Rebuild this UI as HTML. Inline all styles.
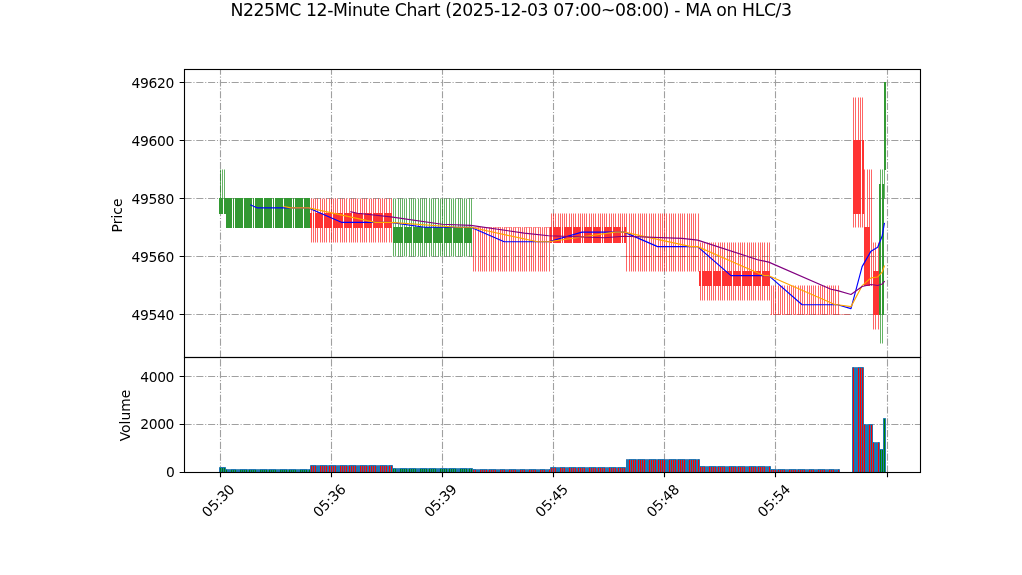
<!DOCTYPE html>
<html><head><meta charset="utf-8"><title>N225MC 12-Minute Chart</title>
<style>
html,body{margin:0;padding:0;background:#fff;}
body{width:1022px;height:575px;overflow:hidden;}
svg{display:block;will-change:transform;}
text{font-family:"DejaVu Sans","Liberation Sans",sans-serif;font-size:13.889px;fill:#000;}
.g{stroke:#a0a0a0;stroke-opacity:1.0;stroke-width:1.111;stroke-dasharray:7.11 1.78 1.11 1.78;fill:none;}
</style></head>
<body>
<svg width="1022" height="575" viewBox="0 0 1022 575">
<rect width="1022" height="575" fill="#fff"/>
<text x="511.2" y="15.6" text-anchor="middle" textLength="561.6" lengthAdjust="spacing" style="font-size:17.3px">N225MC 12-Minute Chart (2025-12-03 07:00~08:00) - MA on HLC/3</text>
<defs><clipPath id="cm"><rect x="184" y="69" width="737" height="288"/></clipPath>
<clipPath id="cv"><rect x="184" y="357" width="737" height="116"/></clipPath></defs>
<g clip-path="url(#cm)">
<g>
<line x1="220.5" y1="357.5" x2="220.5" y2="69.5" class="g"/>
<line x1="331.5" y1="357.5" x2="331.5" y2="69.5" class="g"/>
<line x1="442.5" y1="357.5" x2="442.5" y2="69.5" class="g"/>
<line x1="553.5" y1="357.5" x2="553.5" y2="69.5" class="g"/>
<line x1="664.5" y1="357.5" x2="664.5" y2="69.5" class="g"/>
<line x1="775.5" y1="357.5" x2="775.5" y2="69.5" class="g"/>
<line x1="887.5" y1="357.5" x2="887.5" y2="69.5" class="g"/>
<line x1="184.5" y1="314.5" x2="920.5" y2="314.5" class="g"/>
<line x1="184.5" y1="256.5" x2="920.5" y2="256.5" class="g"/>
<line x1="184.5" y1="198.5" x2="920.5" y2="198.5" class="g"/>
<line x1="184.5" y1="140.5" x2="920.5" y2="140.5" class="g"/>
<line x1="184.5" y1="82.5" x2="920.5" y2="82.5" class="g"/>
</g>
<path d="M219 198h4v16h-4zM224 198h2v16h-2z" fill="#339933" shape-rendering="crispEdges"/>
<path d="M226 198h6v30h-6zM233 198h1v30h-1zM235 198h8v30h-8zM244 198h8v30h-8zM253 198h1v30h-1zM255 198h8v30h-8zM264 198h8v30h-8zM273 198h1v30h-1zM275 198h8v30h-8zM284 198h8v30h-8zM293 198h1v30h-1zM295 198h8v30h-8zM304 198h6v30h-6z" fill="#339933" shape-rendering="crispEdges"/>
<path d="M310 213h2v15h-2zM313 213h1v15h-1zM315 213h8v15h-8zM324 213h8v15h-8zM333 213h10v15h-10zM344 213h8v15h-8zM353 213h10v15h-10zM364 213h8v15h-8zM373 213h10v15h-10zM384 213h8v15h-8z" fill="#ff3333" shape-rendering="crispEdges"/>
<path d="M393 227h10v16h-10zM404 227h8v16h-8zM413 227h10v16h-10zM424 227h8v16h-8zM433 227h10v16h-10zM444 227h8v16h-8zM453 227h10v16h-10zM464 227h8v16h-8z" fill="#339933" shape-rendering="crispEdges"/>
<path d="M550 227h2v16h-2zM553 227h8v16h-8zM562 227h1v16h-1zM564 227h8v16h-8zM573 227h8v16h-8zM582 227h1v16h-1zM584 227h8v16h-8zM593 227h8v16h-8zM602 227h1v16h-1zM604 227h8v16h-8zM613 227h8v16h-8zM622 227h1v16h-1zM624 227h2v16h-2z" fill="#ff3333" shape-rendering="crispEdges"/>
<path d="M699 271h2v15h-2zM702 271h10v15h-10zM713 271h8v15h-8zM722 271h10v15h-10zM733 271h8v15h-8zM742 271h10v15h-10zM753 271h8v15h-8zM762 271h8v15h-8z" fill="#ff3333" shape-rendering="crispEdges"/>
<path d="M853 140h8v74h-8zM862 140h2v74h-2z" fill="#ff3333" shape-rendering="crispEdges"/>
<path d="M864 227h6v59h-6z" fill="#ff3333" shape-rendering="crispEdges"/>
<path d="M873 271h6v44h-6z" fill="#ff3333" shape-rendering="crispEdges"/>
<path d="M879 184h2v131h-2zM882 184h2v131h-2z" fill="#339933" shape-rendering="crispEdges"/>
<path d="M884 82h2v88h-2z" fill="#339933" shape-rendering="crispEdges"/>
<path d="M473 227.5H481M482 227.5H483M484 227.5H492M493 227.5H501M502 227.5H503M504 227.5H512M513 227.5H521M522 227.5H523M524 227.5H532M533 227.5H541M542 227.5H543M544 227.5H550" stroke="#ff0000" stroke-opacity="0.35" stroke-width="1" fill="none"/>
<path d="M626 256.5H632M633 256.5H641M642 256.5H652M653 256.5H661M662 256.5H672M673 256.5H681M682 256.5H692M693 256.5H699" stroke="#ff0000" stroke-opacity="0.35" stroke-width="1" fill="none"/>
<path d="M770 314.5H772M773 314.5H781M782 314.5H790M791 314.5H792M793 314.5H801M802 314.5H810M811 314.5H812M813 314.5H821M822 314.5H830M831 314.5H832M833 314.5H841M842 314.5H850" stroke="#ff0000" stroke-opacity="0.35" stroke-width="1" fill="none"/>
<path d="M871 285.5H872" stroke="#ff0000" stroke-opacity="0.35" stroke-width="1" fill="none"/>
<path d="M220.5 169.5V198M222.5 169.5V198M224.5 169.5V198M393.5 198.5V227M393.5 243V256.5M395.5 198.5V227M395.5 243V256.5M398.5 198.5V227M398.5 243V256.5M400.5 198.5V227M400.5 243V256.5M402.5 198.5V227M402.5 243V256.5M404.5 198.5V227M404.5 243V256.5M406.5 198.5V227M406.5 243V256.5M409.5 198.5V227M409.5 243V256.5M411.5 198.5V227M411.5 243V256.5M413.5 198.5V227M413.5 243V256.5M415.5 198.5V227M415.5 243V256.5M418.5 198.5V227M418.5 243V256.5M420.5 198.5V227M420.5 243V256.5M422.5 198.5V227M422.5 243V256.5M424.5 198.5V227M424.5 243V256.5M426.5 198.5V227M426.5 243V256.5M429.5 198.5V227M429.5 243V256.5M431.5 198.5V227M431.5 243V256.5M433.5 198.5V227M433.5 243V256.5M435.5 198.5V227M435.5 243V256.5M438.5 198.5V227M438.5 243V256.5M440.5 198.5V227M440.5 243V256.5M442.5 198.5V227M442.5 243V256.5M444.5 198.5V227M444.5 243V256.5M446.5 198.5V227M446.5 243V256.5M449.5 198.5V227M449.5 243V256.5M451.5 198.5V227M451.5 243V256.5M453.5 198.5V227M453.5 243V256.5M455.5 198.5V227M455.5 243V256.5M458.5 198.5V227M458.5 243V256.5M460.5 198.5V227M460.5 243V256.5M462.5 198.5V227M462.5 243V256.5M464.5 198.5V227M464.5 243V256.5M466.5 198.5V227M466.5 243V256.5M469.5 198.5V227M469.5 243V256.5M471.5 198.5V227M471.5 243V256.5M880.5 169.5V184M880.5 315V343.5M882.5 169.5V184M882.5 315V343.5M884.5 170V198.5" stroke="#008000" stroke-opacity="0.6" stroke-width="1.0" fill="none"/>
<path d="M311.5 198.5V213M311.5 228V242.5M313.5 198.5V213M313.5 228V242.5M315.5 198.5V213M315.5 228V242.5M317.5 198.5V213M317.5 228V242.5M320.5 198.5V213M320.5 228V242.5M322.5 198.5V213M322.5 228V242.5M324.5 198.5V213M324.5 228V242.5M326.5 198.5V213M326.5 228V242.5M329.5 198.5V213M329.5 228V242.5M331.5 198.5V213M331.5 228V242.5M333.5 198.5V213M333.5 228V242.5M335.5 198.5V213M335.5 228V242.5M337.5 198.5V213M337.5 228V242.5M340.5 198.5V213M340.5 228V242.5M342.5 198.5V213M342.5 228V242.5M344.5 198.5V213M344.5 228V242.5M346.5 198.5V213M346.5 228V242.5M349.5 198.5V213M349.5 228V242.5M351.5 198.5V213M351.5 228V242.5M353.5 198.5V213M353.5 228V242.5M355.5 198.5V213M355.5 228V242.5M357.5 198.5V213M357.5 228V242.5M360.5 198.5V213M360.5 228V242.5M362.5 198.5V213M362.5 228V242.5M364.5 198.5V213M364.5 228V242.5M366.5 198.5V213M366.5 228V242.5M369.5 198.5V213M369.5 228V242.5M371.5 198.5V213M371.5 228V242.5M373.5 198.5V213M373.5 228V242.5M375.5 198.5V213M375.5 228V242.5M378.5 198.5V213M378.5 228V242.5M380.5 198.5V213M380.5 228V242.5M382.5 198.5V213M382.5 228V242.5M384.5 198.5V213M384.5 228V242.5M386.5 198.5V213M386.5 228V242.5M389.5 198.5V213M389.5 228V242.5M391.5 198.5V213M391.5 228V242.5M473.5 227.5V271.5M475.5 227.5V271.5M478.5 227.5V271.5M480.5 227.5V271.5M482.5 227.5V271.5M484.5 227.5V271.5M486.5 227.5V271.5M489.5 227.5V271.5M491.5 227.5V271.5M493.5 227.5V271.5M495.5 227.5V271.5M498.5 227.5V271.5M500.5 227.5V271.5M502.5 227.5V271.5M504.5 227.5V271.5M506.5 227.5V271.5M509.5 227.5V271.5M511.5 227.5V271.5M513.5 227.5V271.5M515.5 227.5V271.5M518.5 227.5V271.5M520.5 227.5V271.5M522.5 227.5V271.5M524.5 227.5V271.5M526.5 227.5V271.5M529.5 227.5V271.5M531.5 227.5V271.5M533.5 227.5V271.5M535.5 227.5V271.5M538.5 227.5V271.5M540.5 227.5V271.5M542.5 227.5V271.5M544.5 227.5V271.5M546.5 227.5V271.5M549.5 227.5V271.5M551.5 213.5V227M553.5 213.5V227M555.5 213.5V227M558.5 213.5V227M560.5 213.5V227M562.5 213.5V227M564.5 213.5V227M566.5 213.5V227M569.5 213.5V227M571.5 213.5V227M573.5 213.5V227M575.5 213.5V227M578.5 213.5V227M580.5 213.5V227M582.5 213.5V227M584.5 213.5V227M586.5 213.5V227M589.5 213.5V227M591.5 213.5V227M593.5 213.5V227M595.5 213.5V227M598.5 213.5V227M600.5 213.5V227M602.5 213.5V227M604.5 213.5V227M606.5 213.5V227M609.5 213.5V227M611.5 213.5V227M613.5 213.5V227M615.5 213.5V227M618.5 213.5V227M620.5 213.5V227M622.5 213.5V227M624.5 213.5V227M626.5 213.5V271.5M629.5 213.5V271.5M631.5 213.5V271.5M633.5 213.5V271.5M635.5 213.5V271.5M638.5 213.5V271.5M640.5 213.5V271.5M642.5 213.5V271.5M644.5 213.5V271.5M646.5 213.5V271.5M649.5 213.5V271.5M651.5 213.5V271.5M653.5 213.5V271.5M655.5 213.5V271.5M658.5 213.5V271.5M660.5 213.5V271.5M662.5 213.5V271.5M664.5 213.5V271.5M666.5 213.5V271.5M669.5 213.5V271.5M671.5 213.5V271.5M673.5 213.5V271.5M675.5 213.5V271.5M678.5 213.5V271.5M680.5 213.5V271.5M682.5 213.5V271.5M684.5 213.5V271.5M687.5 213.5V271.5M689.5 213.5V271.5M691.5 213.5V271.5M693.5 213.5V271.5M695.5 213.5V271.5M698.5 213.5V271.5M700.5 242.5V271M700.5 286V300.5M702.5 242.5V271M702.5 286V300.5M704.5 242.5V271M704.5 286V300.5M707.5 242.5V271M707.5 286V300.5M709.5 242.5V271M709.5 286V300.5M711.5 242.5V271M711.5 286V300.5M713.5 242.5V271M713.5 286V300.5M715.5 242.5V271M715.5 286V300.5M718.5 242.5V271M718.5 286V300.5M720.5 242.5V271M720.5 286V300.5M722.5 242.5V271M722.5 286V300.5M724.5 242.5V271M724.5 286V300.5M727.5 242.5V271M727.5 286V300.5M729.5 242.5V271M729.5 286V300.5M731.5 242.5V271M731.5 286V300.5M733.5 242.5V271M733.5 286V300.5M735.5 242.5V271M735.5 286V300.5M738.5 242.5V271M738.5 286V300.5M740.5 242.5V271M740.5 286V300.5M742.5 242.5V271M742.5 286V300.5M744.5 242.5V271M744.5 286V300.5M747.5 242.5V271M747.5 286V300.5M749.5 242.5V271M749.5 286V300.5M751.5 242.5V271M751.5 286V300.5M753.5 242.5V271M753.5 286V300.5M755.5 242.5V271M755.5 286V300.5M758.5 242.5V271M758.5 286V300.5M760.5 242.5V271M760.5 286V300.5M762.5 242.5V271M762.5 286V300.5M764.5 242.5V271M764.5 286V300.5M767.5 242.5V271M767.5 286V300.5M769.5 242.5V271M769.5 286V300.5M771.5 285.5V314.5M773.5 285.5V314.5M775.5 285.5V314.5M778.5 285.5V314.5M780.5 285.5V314.5M782.5 285.5V314.5M784.5 285.5V314.5M787.5 285.5V314.5M789.5 285.5V314.5M791.5 285.5V314.5M793.5 285.5V314.5M795.5 285.5V314.5M798.5 285.5V314.5M800.5 285.5V314.5M802.5 285.5V314.5M804.5 285.5V314.5M807.5 285.5V314.5M809.5 285.5V314.5M811.5 285.5V314.5M813.5 285.5V314.5M815.5 285.5V314.5M818.5 285.5V314.5M820.5 285.5V314.5M822.5 285.5V314.5M824.5 285.5V314.5M827.5 285.5V314.5M829.5 285.5V314.5M831.5 285.5V314.5M833.5 285.5V314.5M835.5 285.5V314.5M838.5 285.5V314.5M853.5 97.5V140M853.5 214V227.5M855.5 97.5V140M855.5 214V227.5M858.5 97.5V140M858.5 214V227.5M860.5 97.5V140M860.5 214V227.5M862.5 97.5V140M862.5 214V227.5M864.5 169.5V227M867.5 169.5V227M869.5 169.5V227M871.5 169.5V285.5M873.5 242.5V271M873.5 315V329.5M875.5 242.5V271M875.5 315V329.5M878.5 242.5V271M878.5 315V329.5" stroke="#ff0000" stroke-opacity="0.6" stroke-width="1.0" fill="none"/>
<path d="M250.79 205.00 L257.46 207.91 L308.59 207.91 L341.93 222.43 L390.84 222.43 L424.19 227.27 L470.87 227.27 L504.21 241.79 L548.67 241.79 L582.02 232.11 L624.26 232.11 L657.60 246.63 L697.62 246.63 L730.96 275.67 L768.75 275.67 L802.10 304.71 L837.66 304.71 L851.00 308.58 L862.12 266.63 L871.01 251.15 L877.68 247.27 L882.12 236.30 L884.35 223.40" stroke="#0000ff" stroke-opacity="1.0" stroke-width="1.15" fill="none" stroke-linejoin="round" stroke-linecap="square"/>
<path d="M284.14 206.46 L290.81 207.91 L308.59 207.91 L375.28 222.43 L390.84 222.43 L457.53 227.27 L470.87 227.27 L537.56 241.79 L548.67 241.79 L615.36 232.11 L624.26 232.11 L690.95 246.63 L697.62 246.63 L764.30 275.67 L768.75 275.67 L835.44 304.71 L837.66 304.71 L851.00 306.64 L862.12 285.67 L871.01 277.93 L877.68 276.96 L882.12 272.12 L884.35 265.99" stroke="#ffa500" stroke-opacity="1.0" stroke-width="1.15" fill="none" stroke-linejoin="round" stroke-linecap="square"/>
<path d="M350.83 211.78 L357.50 213.23 L390.84 216.86 L441.97 224.28 L470.87 225.33 L524.22 233.08 L548.67 235.74 L604.25 237.75 L624.26 236.30 L682.05 238.40 L697.62 240.09 L757.64 259.70 L768.75 262.12 L830.99 289.22 L837.66 290.67 L851.00 294.54 L862.12 286.48 L871.01 284.54 L877.68 285.51 L882.12 284.06 L884.35 281.48" stroke="#800080" stroke-opacity="1.0" stroke-width="1.15" fill="none" stroke-linejoin="round" stroke-linecap="square"/>
</g>
<g clip-path="url(#cv)">
<line x1="220.5" y1="472.5" x2="220.5" y2="357.5" class="g"/>
<line x1="331.5" y1="472.5" x2="331.5" y2="357.5" class="g"/>
<line x1="442.5" y1="472.5" x2="442.5" y2="357.5" class="g"/>
<line x1="553.5" y1="472.5" x2="553.5" y2="357.5" class="g"/>
<line x1="664.5" y1="472.5" x2="664.5" y2="357.5" class="g"/>
<line x1="775.5" y1="472.5" x2="775.5" y2="357.5" class="g"/>
<line x1="887.5" y1="472.5" x2="887.5" y2="357.5" class="g"/>
<line x1="184.5" y1="424.5" x2="920.5" y2="424.5" class="g"/>
<line x1="184.5" y1="376.5" x2="920.5" y2="376.5" class="g"/>
<path d="M219.5 467.5H221.5V472.5H219.5zM221.5 467.5H223.5V472.5H221.5zM223.5 467.5H225.5V472.5H223.5zM225.5 469.5H227.5V472.5H225.5zM228.5 469.5H229.5V472.5H228.5zM230.5 469.5H232.5V472.5H230.5zM232.5 469.5H234.5V472.5H232.5zM234.5 469.5H236.5V472.5H234.5zM237.5 469.5H238.5V472.5H237.5zM239.5 469.5H241.5V472.5H239.5zM241.5 469.5H243.5V472.5H241.5zM243.5 469.5H245.5V472.5H243.5zM245.5 469.5H247.5V472.5H245.5zM248.5 469.5H250.5V472.5H248.5zM250.5 469.5H252.5V472.5H250.5zM252.5 469.5H254.5V472.5H252.5zM254.5 469.5H256.5V472.5H254.5zM257.5 469.5H258.5V472.5H257.5zM259.5 469.5H261.5V472.5H259.5zM261.5 469.5H263.5V472.5H261.5zM263.5 469.5H265.5V472.5H263.5zM265.5 469.5H267.5V472.5H265.5zM268.5 469.5H270.5V472.5H268.5zM270.5 469.5H272.5V472.5H270.5zM272.5 469.5H274.5V472.5H272.5zM274.5 469.5H276.5V472.5H274.5zM277.5 469.5H278.5V472.5H277.5zM279.5 469.5H281.5V472.5H279.5zM281.5 469.5H283.5V472.5H281.5zM283.5 469.5H285.5V472.5H283.5zM285.5 469.5H287.5V472.5H285.5zM288.5 469.5H290.5V472.5H288.5zM290.5 469.5H292.5V472.5H290.5zM292.5 469.5H294.5V472.5H292.5zM294.5 469.5H296.5V472.5H294.5zM297.5 469.5H298.5V472.5H297.5zM299.5 469.5H301.5V472.5H299.5zM301.5 469.5H303.5V472.5H301.5zM303.5 469.5H305.5V472.5H303.5zM305.5 469.5H307.5V472.5H305.5zM308.5 469.5H310.5V472.5H308.5zM392.5 468.5H394.5V472.5H392.5zM394.5 468.5H396.5V472.5H394.5zM397.5 468.5H398.5V472.5H397.5zM399.5 468.5H401.5V472.5H399.5zM401.5 468.5H403.5V472.5H401.5zM403.5 468.5H405.5V472.5H403.5zM405.5 468.5H407.5V472.5H405.5zM408.5 468.5H410.5V472.5H408.5zM410.5 468.5H412.5V472.5H410.5zM412.5 468.5H414.5V472.5H412.5zM414.5 468.5H416.5V472.5H414.5zM417.5 468.5H418.5V472.5H417.5zM419.5 468.5H421.5V472.5H419.5zM421.5 468.5H423.5V472.5H421.5zM423.5 468.5H425.5V472.5H423.5zM425.5 468.5H427.5V472.5H425.5zM428.5 468.5H430.5V472.5H428.5zM430.5 468.5H432.5V472.5H430.5zM432.5 468.5H434.5V472.5H432.5zM434.5 468.5H436.5V472.5H434.5zM437.5 468.5H438.5V472.5H437.5zM439.5 468.5H441.5V472.5H439.5zM441.5 468.5H443.5V472.5H441.5zM443.5 468.5H445.5V472.5H443.5zM445.5 468.5H447.5V472.5H445.5zM448.5 468.5H450.5V472.5H448.5zM450.5 468.5H452.5V472.5H450.5zM452.5 468.5H454.5V472.5H452.5zM454.5 468.5H456.5V472.5H454.5zM457.5 468.5H458.5V472.5H457.5zM459.5 468.5H461.5V472.5H459.5zM461.5 468.5H463.5V472.5H461.5zM463.5 468.5H465.5V472.5H463.5zM465.5 468.5H467.5V472.5H465.5zM468.5 468.5H470.5V472.5H468.5zM470.5 468.5H472.5V472.5H470.5zM879.5 449.5H881.5V472.5H879.5zM881.5 449.5H883.5V472.5H881.5zM883.5 418.5H885.5V472.5H883.5z" fill="#008000"/>
<path d="M310.5 465.5H312.5V472.5H310.5zM312.5 465.5H314.5V472.5H312.5zM314.5 465.5H316.5V472.5H314.5zM317.5 465.5H318.5V472.5H317.5zM319.5 465.5H321.5V472.5H319.5zM321.5 465.5H323.5V472.5H321.5zM323.5 465.5H325.5V472.5H323.5zM325.5 465.5H327.5V472.5H325.5zM328.5 465.5H330.5V472.5H328.5zM330.5 465.5H332.5V472.5H330.5zM332.5 465.5H334.5V472.5H332.5zM334.5 465.5H336.5V472.5H334.5zM337.5 465.5H338.5V472.5H337.5zM339.5 465.5H341.5V472.5H339.5zM341.5 465.5H343.5V472.5H341.5zM343.5 465.5H345.5V472.5H343.5zM345.5 465.5H347.5V472.5H345.5zM348.5 465.5H350.5V472.5H348.5zM350.5 465.5H352.5V472.5H350.5zM352.5 465.5H354.5V472.5H352.5zM354.5 465.5H356.5V472.5H354.5zM357.5 465.5H358.5V472.5H357.5zM359.5 465.5H361.5V472.5H359.5zM361.5 465.5H363.5V472.5H361.5zM363.5 465.5H365.5V472.5H363.5zM365.5 465.5H367.5V472.5H365.5zM368.5 465.5H370.5V472.5H368.5zM370.5 465.5H372.5V472.5H370.5zM372.5 465.5H374.5V472.5H372.5zM374.5 465.5H376.5V472.5H374.5zM377.5 465.5H378.5V472.5H377.5zM379.5 465.5H381.5V472.5H379.5zM381.5 465.5H383.5V472.5H381.5zM383.5 465.5H385.5V472.5H383.5zM385.5 465.5H387.5V472.5H385.5zM388.5 465.5H390.5V472.5H388.5zM390.5 465.5H392.5V472.5H390.5zM472.5 469.5H474.5V472.5H472.5zM474.5 469.5H476.5V472.5H474.5zM477.5 469.5H478.5V472.5H477.5zM479.5 469.5H481.5V472.5H479.5zM481.5 469.5H483.5V472.5H481.5zM483.5 469.5H485.5V472.5H483.5zM485.5 469.5H487.5V472.5H485.5zM488.5 469.5H490.5V472.5H488.5zM490.5 469.5H492.5V472.5H490.5zM492.5 469.5H494.5V472.5H492.5zM494.5 469.5H496.5V472.5H494.5zM497.5 469.5H498.5V472.5H497.5zM499.5 469.5H501.5V472.5H499.5zM501.5 469.5H503.5V472.5H501.5zM503.5 469.5H505.5V472.5H503.5zM506.5 469.5H507.5V472.5H506.5zM508.5 469.5H510.5V472.5H508.5zM510.5 469.5H512.5V472.5H510.5zM512.5 469.5H514.5V472.5H512.5zM514.5 469.5H516.5V472.5H514.5zM517.5 469.5H518.5V472.5H517.5zM519.5 469.5H521.5V472.5H519.5zM521.5 469.5H523.5V472.5H521.5zM523.5 469.5H525.5V472.5H523.5zM526.5 469.5H527.5V472.5H526.5zM528.5 469.5H530.5V472.5H528.5zM530.5 469.5H532.5V472.5H530.5zM532.5 469.5H534.5V472.5H532.5zM534.5 469.5H536.5V472.5H534.5zM537.5 469.5H538.5V472.5H537.5zM539.5 469.5H541.5V472.5H539.5zM541.5 469.5H543.5V472.5H541.5zM543.5 469.5H545.5V472.5H543.5zM546.5 469.5H547.5V472.5H546.5zM548.5 469.5H550.5V472.5H548.5zM550.5 467.5H552.5V472.5H550.5zM552.5 467.5H554.5V472.5H552.5zM554.5 467.5H556.5V472.5H554.5zM557.5 467.5H558.5V472.5H557.5zM559.5 467.5H561.5V472.5H559.5zM561.5 467.5H563.5V472.5H561.5zM563.5 467.5H565.5V472.5H563.5zM566.5 467.5H567.5V472.5H566.5zM568.5 467.5H570.5V472.5H568.5zM570.5 467.5H572.5V472.5H570.5zM572.5 467.5H574.5V472.5H572.5zM574.5 467.5H576.5V472.5H574.5zM577.5 467.5H579.5V472.5H577.5zM579.5 467.5H581.5V472.5H579.5zM581.5 467.5H583.5V472.5H581.5zM583.5 467.5H585.5V472.5H583.5zM586.5 467.5H587.5V472.5H586.5zM588.5 467.5H590.5V472.5H588.5zM590.5 467.5H592.5V472.5H590.5zM592.5 467.5H594.5V472.5H592.5zM594.5 467.5H596.5V472.5H594.5zM597.5 467.5H599.5V472.5H597.5zM599.5 467.5H601.5V472.5H599.5zM601.5 467.5H603.5V472.5H601.5zM603.5 467.5H605.5V472.5H603.5zM606.5 467.5H607.5V472.5H606.5zM608.5 467.5H610.5V472.5H608.5zM610.5 467.5H612.5V472.5H610.5zM612.5 467.5H614.5V472.5H612.5zM614.5 467.5H616.5V472.5H614.5zM617.5 467.5H619.5V472.5H617.5zM619.5 467.5H621.5V472.5H619.5zM621.5 467.5H623.5V472.5H621.5zM623.5 467.5H625.5V472.5H623.5zM626.5 459.5H627.5V472.5H626.5zM628.5 459.5H630.5V472.5H628.5zM630.5 459.5H632.5V472.5H630.5zM632.5 459.5H634.5V472.5H632.5zM634.5 459.5H636.5V472.5H634.5zM637.5 459.5H639.5V472.5H637.5zM639.5 459.5H641.5V472.5H639.5zM641.5 459.5H643.5V472.5H641.5zM643.5 459.5H645.5V472.5H643.5zM646.5 459.5H647.5V472.5H646.5zM648.5 459.5H650.5V472.5H648.5zM650.5 459.5H652.5V472.5H650.5zM652.5 459.5H654.5V472.5H652.5zM654.5 459.5H656.5V472.5H654.5zM657.5 459.5H659.5V472.5H657.5zM659.5 459.5H661.5V472.5H659.5zM661.5 459.5H663.5V472.5H661.5zM663.5 459.5H665.5V472.5H663.5zM666.5 459.5H667.5V472.5H666.5zM668.5 459.5H670.5V472.5H668.5zM670.5 459.5H672.5V472.5H670.5zM672.5 459.5H674.5V472.5H672.5zM674.5 459.5H676.5V472.5H674.5zM677.5 459.5H679.5V472.5H677.5zM679.5 459.5H681.5V472.5H679.5zM681.5 459.5H683.5V472.5H681.5zM683.5 459.5H685.5V472.5H683.5zM686.5 459.5H687.5V472.5H686.5zM688.5 459.5H690.5V472.5H688.5zM690.5 459.5H692.5V472.5H690.5zM692.5 459.5H694.5V472.5H692.5zM694.5 459.5H696.5V472.5H694.5zM697.5 459.5H699.5V472.5H697.5zM699.5 466.5H701.5V472.5H699.5zM701.5 466.5H703.5V472.5H701.5zM703.5 466.5H705.5V472.5H703.5zM706.5 466.5H707.5V472.5H706.5zM708.5 466.5H710.5V472.5H708.5zM710.5 466.5H712.5V472.5H710.5zM712.5 466.5H714.5V472.5H712.5zM714.5 466.5H716.5V472.5H714.5zM717.5 466.5H719.5V472.5H717.5zM719.5 466.5H721.5V472.5H719.5zM721.5 466.5H723.5V472.5H721.5zM723.5 466.5H725.5V472.5H723.5zM726.5 466.5H727.5V472.5H726.5zM728.5 466.5H730.5V472.5H728.5zM730.5 466.5H732.5V472.5H730.5zM732.5 466.5H734.5V472.5H732.5zM734.5 466.5H736.5V472.5H734.5zM737.5 466.5H739.5V472.5H737.5zM739.5 466.5H741.5V472.5H739.5zM741.5 466.5H743.5V472.5H741.5zM743.5 466.5H745.5V472.5H743.5zM746.5 466.5H747.5V472.5H746.5zM748.5 466.5H750.5V472.5H748.5zM750.5 466.5H752.5V472.5H750.5zM752.5 466.5H754.5V472.5H752.5zM754.5 466.5H756.5V472.5H754.5zM757.5 466.5H759.5V472.5H757.5zM759.5 466.5H761.5V472.5H759.5zM761.5 466.5H763.5V472.5H761.5zM763.5 466.5H765.5V472.5H763.5zM766.5 466.5H767.5V472.5H766.5zM768.5 466.5H770.5V472.5H768.5zM770.5 469.5H772.5V472.5H770.5zM772.5 469.5H774.5V472.5H772.5zM774.5 469.5H776.5V472.5H774.5zM777.5 469.5H779.5V472.5H777.5zM779.5 469.5H781.5V472.5H779.5zM781.5 469.5H783.5V472.5H781.5zM783.5 469.5H785.5V472.5H783.5zM786.5 469.5H787.5V472.5H786.5zM788.5 469.5H790.5V472.5H788.5zM790.5 469.5H792.5V472.5H790.5zM792.5 469.5H794.5V472.5H792.5zM794.5 469.5H796.5V472.5H794.5zM797.5 469.5H799.5V472.5H797.5zM799.5 469.5H801.5V472.5H799.5zM801.5 469.5H803.5V472.5H801.5zM803.5 469.5H805.5V472.5H803.5zM806.5 469.5H807.5V472.5H806.5zM808.5 469.5H810.5V472.5H808.5zM810.5 469.5H812.5V472.5H810.5zM812.5 469.5H814.5V472.5H812.5zM815.5 469.5H816.5V472.5H815.5zM817.5 469.5H819.5V472.5H817.5zM819.5 469.5H821.5V472.5H819.5zM821.5 469.5H823.5V472.5H821.5zM823.5 469.5H825.5V472.5H823.5zM826.5 469.5H827.5V472.5H826.5zM828.5 469.5H830.5V472.5H828.5zM830.5 469.5H832.5V472.5H830.5zM832.5 469.5H834.5V472.5H832.5zM835.5 469.5H836.5V472.5H835.5zM837.5 469.5H839.5V472.5H837.5zM852.5 367.5H854.5V472.5H852.5zM855.5 367.5H856.5V472.5H855.5zM857.5 367.5H859.5V472.5H857.5zM859.5 367.5H861.5V472.5H859.5zM861.5 367.5H863.5V472.5H861.5zM863.5 424.5H865.5V472.5H863.5zM866.5 424.5H867.5V472.5H866.5zM868.5 424.5H870.5V472.5H868.5zM870.5 424.5H872.5V472.5H870.5zM872.5 442.5H874.5V472.5H872.5zM875.5 442.5H876.5V472.5H875.5zM877.5 442.5H879.5V472.5H877.5z" fill="#ff0000"/>
<path d="M219.5 467.5H221.5V472.5H219.5zM221.5 467.5H223.5V472.5H221.5zM223.5 467.5H225.5V472.5H223.5zM225.5 469.5H227.5V472.5H225.5zM228.5 469.5H229.5V472.5H228.5zM230.5 469.5H232.5V472.5H230.5zM232.5 469.5H234.5V472.5H232.5zM234.5 469.5H236.5V472.5H234.5zM237.5 469.5H238.5V472.5H237.5zM239.5 469.5H241.5V472.5H239.5zM241.5 469.5H243.5V472.5H241.5zM243.5 469.5H245.5V472.5H243.5zM245.5 469.5H247.5V472.5H245.5zM248.5 469.5H250.5V472.5H248.5zM250.5 469.5H252.5V472.5H250.5zM252.5 469.5H254.5V472.5H252.5zM254.5 469.5H256.5V472.5H254.5zM257.5 469.5H258.5V472.5H257.5zM259.5 469.5H261.5V472.5H259.5zM261.5 469.5H263.5V472.5H261.5zM263.5 469.5H265.5V472.5H263.5zM265.5 469.5H267.5V472.5H265.5zM268.5 469.5H270.5V472.5H268.5zM270.5 469.5H272.5V472.5H270.5zM272.5 469.5H274.5V472.5H272.5zM274.5 469.5H276.5V472.5H274.5zM277.5 469.5H278.5V472.5H277.5zM279.5 469.5H281.5V472.5H279.5zM281.5 469.5H283.5V472.5H281.5zM283.5 469.5H285.5V472.5H283.5zM285.5 469.5H287.5V472.5H285.5zM288.5 469.5H290.5V472.5H288.5zM290.5 469.5H292.5V472.5H290.5zM292.5 469.5H294.5V472.5H292.5zM294.5 469.5H296.5V472.5H294.5zM297.5 469.5H298.5V472.5H297.5zM299.5 469.5H301.5V472.5H299.5zM301.5 469.5H303.5V472.5H301.5zM303.5 469.5H305.5V472.5H303.5zM305.5 469.5H307.5V472.5H305.5zM308.5 469.5H310.5V472.5H308.5zM310.5 465.5H312.5V472.5H310.5zM312.5 465.5H314.5V472.5H312.5zM314.5 465.5H316.5V472.5H314.5zM317.5 465.5H318.5V472.5H317.5zM319.5 465.5H321.5V472.5H319.5zM321.5 465.5H323.5V472.5H321.5zM323.5 465.5H325.5V472.5H323.5zM325.5 465.5H327.5V472.5H325.5zM328.5 465.5H330.5V472.5H328.5zM330.5 465.5H332.5V472.5H330.5zM332.5 465.5H334.5V472.5H332.5zM334.5 465.5H336.5V472.5H334.5zM337.5 465.5H338.5V472.5H337.5zM339.5 465.5H341.5V472.5H339.5zM341.5 465.5H343.5V472.5H341.5zM343.5 465.5H345.5V472.5H343.5zM345.5 465.5H347.5V472.5H345.5zM348.5 465.5H350.5V472.5H348.5zM350.5 465.5H352.5V472.5H350.5zM352.5 465.5H354.5V472.5H352.5zM354.5 465.5H356.5V472.5H354.5zM357.5 465.5H358.5V472.5H357.5zM359.5 465.5H361.5V472.5H359.5zM361.5 465.5H363.5V472.5H361.5zM363.5 465.5H365.5V472.5H363.5zM365.5 465.5H367.5V472.5H365.5zM368.5 465.5H370.5V472.5H368.5zM370.5 465.5H372.5V472.5H370.5zM372.5 465.5H374.5V472.5H372.5zM374.5 465.5H376.5V472.5H374.5zM377.5 465.5H378.5V472.5H377.5zM379.5 465.5H381.5V472.5H379.5zM381.5 465.5H383.5V472.5H381.5zM383.5 465.5H385.5V472.5H383.5zM385.5 465.5H387.5V472.5H385.5zM388.5 465.5H390.5V472.5H388.5zM390.5 465.5H392.5V472.5H390.5zM392.5 468.5H394.5V472.5H392.5zM394.5 468.5H396.5V472.5H394.5zM397.5 468.5H398.5V472.5H397.5zM399.5 468.5H401.5V472.5H399.5zM401.5 468.5H403.5V472.5H401.5zM403.5 468.5H405.5V472.5H403.5zM405.5 468.5H407.5V472.5H405.5zM408.5 468.5H410.5V472.5H408.5zM410.5 468.5H412.5V472.5H410.5zM412.5 468.5H414.5V472.5H412.5zM414.5 468.5H416.5V472.5H414.5zM417.5 468.5H418.5V472.5H417.5zM419.5 468.5H421.5V472.5H419.5zM421.5 468.5H423.5V472.5H421.5zM423.5 468.5H425.5V472.5H423.5zM425.5 468.5H427.5V472.5H425.5zM428.5 468.5H430.5V472.5H428.5zM430.5 468.5H432.5V472.5H430.5zM432.5 468.5H434.5V472.5H432.5zM434.5 468.5H436.5V472.5H434.5zM437.5 468.5H438.5V472.5H437.5zM439.5 468.5H441.5V472.5H439.5zM441.5 468.5H443.5V472.5H441.5zM443.5 468.5H445.5V472.5H443.5zM445.5 468.5H447.5V472.5H445.5zM448.5 468.5H450.5V472.5H448.5zM450.5 468.5H452.5V472.5H450.5zM452.5 468.5H454.5V472.5H452.5zM454.5 468.5H456.5V472.5H454.5zM457.5 468.5H458.5V472.5H457.5zM459.5 468.5H461.5V472.5H459.5zM461.5 468.5H463.5V472.5H461.5zM463.5 468.5H465.5V472.5H463.5zM465.5 468.5H467.5V472.5H465.5zM468.5 468.5H470.5V472.5H468.5zM470.5 468.5H472.5V472.5H470.5zM472.5 469.5H474.5V472.5H472.5zM474.5 469.5H476.5V472.5H474.5zM477.5 469.5H478.5V472.5H477.5zM479.5 469.5H481.5V472.5H479.5zM481.5 469.5H483.5V472.5H481.5zM483.5 469.5H485.5V472.5H483.5zM485.5 469.5H487.5V472.5H485.5zM488.5 469.5H490.5V472.5H488.5zM490.5 469.5H492.5V472.5H490.5zM492.5 469.5H494.5V472.5H492.5zM494.5 469.5H496.5V472.5H494.5zM497.5 469.5H498.5V472.5H497.5zM499.5 469.5H501.5V472.5H499.5zM501.5 469.5H503.5V472.5H501.5zM503.5 469.5H505.5V472.5H503.5zM506.5 469.5H507.5V472.5H506.5zM508.5 469.5H510.5V472.5H508.5zM510.5 469.5H512.5V472.5H510.5zM512.5 469.5H514.5V472.5H512.5zM514.5 469.5H516.5V472.5H514.5zM517.5 469.5H518.5V472.5H517.5zM519.5 469.5H521.5V472.5H519.5zM521.5 469.5H523.5V472.5H521.5zM523.5 469.5H525.5V472.5H523.5zM526.5 469.5H527.5V472.5H526.5zM528.5 469.5H530.5V472.5H528.5zM530.5 469.5H532.5V472.5H530.5zM532.5 469.5H534.5V472.5H532.5zM534.5 469.5H536.5V472.5H534.5zM537.5 469.5H538.5V472.5H537.5zM539.5 469.5H541.5V472.5H539.5zM541.5 469.5H543.5V472.5H541.5zM543.5 469.5H545.5V472.5H543.5zM546.5 469.5H547.5V472.5H546.5zM548.5 469.5H550.5V472.5H548.5zM550.5 467.5H552.5V472.5H550.5zM552.5 467.5H554.5V472.5H552.5zM554.5 467.5H556.5V472.5H554.5zM557.5 467.5H558.5V472.5H557.5zM559.5 467.5H561.5V472.5H559.5zM561.5 467.5H563.5V472.5H561.5zM563.5 467.5H565.5V472.5H563.5zM566.5 467.5H567.5V472.5H566.5zM568.5 467.5H570.5V472.5H568.5zM570.5 467.5H572.5V472.5H570.5zM572.5 467.5H574.5V472.5H572.5zM574.5 467.5H576.5V472.5H574.5zM577.5 467.5H579.5V472.5H577.5zM579.5 467.5H581.5V472.5H579.5zM581.5 467.5H583.5V472.5H581.5zM583.5 467.5H585.5V472.5H583.5zM586.5 467.5H587.5V472.5H586.5zM588.5 467.5H590.5V472.5H588.5zM590.5 467.5H592.5V472.5H590.5zM592.5 467.5H594.5V472.5H592.5zM594.5 467.5H596.5V472.5H594.5zM597.5 467.5H599.5V472.5H597.5zM599.5 467.5H601.5V472.5H599.5zM601.5 467.5H603.5V472.5H601.5zM603.5 467.5H605.5V472.5H603.5zM606.5 467.5H607.5V472.5H606.5zM608.5 467.5H610.5V472.5H608.5zM610.5 467.5H612.5V472.5H610.5zM612.5 467.5H614.5V472.5H612.5zM614.5 467.5H616.5V472.5H614.5zM617.5 467.5H619.5V472.5H617.5zM619.5 467.5H621.5V472.5H619.5zM621.5 467.5H623.5V472.5H621.5zM623.5 467.5H625.5V472.5H623.5zM626.5 459.5H627.5V472.5H626.5zM628.5 459.5H630.5V472.5H628.5zM630.5 459.5H632.5V472.5H630.5zM632.5 459.5H634.5V472.5H632.5zM634.5 459.5H636.5V472.5H634.5zM637.5 459.5H639.5V472.5H637.5zM639.5 459.5H641.5V472.5H639.5zM641.5 459.5H643.5V472.5H641.5zM643.5 459.5H645.5V472.5H643.5zM646.5 459.5H647.5V472.5H646.5zM648.5 459.5H650.5V472.5H648.5zM650.5 459.5H652.5V472.5H650.5zM652.5 459.5H654.5V472.5H652.5zM654.5 459.5H656.5V472.5H654.5zM657.5 459.5H659.5V472.5H657.5zM659.5 459.5H661.5V472.5H659.5zM661.5 459.5H663.5V472.5H661.5zM663.5 459.5H665.5V472.5H663.5zM666.5 459.5H667.5V472.5H666.5zM668.5 459.5H670.5V472.5H668.5zM670.5 459.5H672.5V472.5H670.5zM672.5 459.5H674.5V472.5H672.5zM674.5 459.5H676.5V472.5H674.5zM677.5 459.5H679.5V472.5H677.5zM679.5 459.5H681.5V472.5H679.5zM681.5 459.5H683.5V472.5H681.5zM683.5 459.5H685.5V472.5H683.5zM686.5 459.5H687.5V472.5H686.5zM688.5 459.5H690.5V472.5H688.5zM690.5 459.5H692.5V472.5H690.5zM692.5 459.5H694.5V472.5H692.5zM694.5 459.5H696.5V472.5H694.5zM697.5 459.5H699.5V472.5H697.5zM699.5 466.5H701.5V472.5H699.5zM701.5 466.5H703.5V472.5H701.5zM703.5 466.5H705.5V472.5H703.5zM706.5 466.5H707.5V472.5H706.5zM708.5 466.5H710.5V472.5H708.5zM710.5 466.5H712.5V472.5H710.5zM712.5 466.5H714.5V472.5H712.5zM714.5 466.5H716.5V472.5H714.5zM717.5 466.5H719.5V472.5H717.5zM719.5 466.5H721.5V472.5H719.5zM721.5 466.5H723.5V472.5H721.5zM723.5 466.5H725.5V472.5H723.5zM726.5 466.5H727.5V472.5H726.5zM728.5 466.5H730.5V472.5H728.5zM730.5 466.5H732.5V472.5H730.5zM732.5 466.5H734.5V472.5H732.5zM734.5 466.5H736.5V472.5H734.5zM737.5 466.5H739.5V472.5H737.5zM739.5 466.5H741.5V472.5H739.5zM741.5 466.5H743.5V472.5H741.5zM743.5 466.5H745.5V472.5H743.5zM746.5 466.5H747.5V472.5H746.5zM748.5 466.5H750.5V472.5H748.5zM750.5 466.5H752.5V472.5H750.5zM752.5 466.5H754.5V472.5H752.5zM754.5 466.5H756.5V472.5H754.5zM757.5 466.5H759.5V472.5H757.5zM759.5 466.5H761.5V472.5H759.5zM761.5 466.5H763.5V472.5H761.5zM763.5 466.5H765.5V472.5H763.5zM766.5 466.5H767.5V472.5H766.5zM768.5 466.5H770.5V472.5H768.5zM770.5 469.5H772.5V472.5H770.5zM772.5 469.5H774.5V472.5H772.5zM774.5 469.5H776.5V472.5H774.5zM777.5 469.5H779.5V472.5H777.5zM779.5 469.5H781.5V472.5H779.5zM781.5 469.5H783.5V472.5H781.5zM783.5 469.5H785.5V472.5H783.5zM786.5 469.5H787.5V472.5H786.5zM788.5 469.5H790.5V472.5H788.5zM790.5 469.5H792.5V472.5H790.5zM792.5 469.5H794.5V472.5H792.5zM794.5 469.5H796.5V472.5H794.5zM797.5 469.5H799.5V472.5H797.5zM799.5 469.5H801.5V472.5H799.5zM801.5 469.5H803.5V472.5H801.5zM803.5 469.5H805.5V472.5H803.5zM806.5 469.5H807.5V472.5H806.5zM808.5 469.5H810.5V472.5H808.5zM810.5 469.5H812.5V472.5H810.5zM812.5 469.5H814.5V472.5H812.5zM815.5 469.5H816.5V472.5H815.5zM817.5 469.5H819.5V472.5H817.5zM819.5 469.5H821.5V472.5H819.5zM821.5 469.5H823.5V472.5H821.5zM823.5 469.5H825.5V472.5H823.5zM826.5 469.5H827.5V472.5H826.5zM828.5 469.5H830.5V472.5H828.5zM830.5 469.5H832.5V472.5H830.5zM832.5 469.5H834.5V472.5H832.5zM835.5 469.5H836.5V472.5H835.5zM837.5 469.5H839.5V472.5H837.5zM852.5 367.5H854.5V472.5H852.5zM855.5 367.5H856.5V472.5H855.5zM857.5 367.5H859.5V472.5H857.5zM859.5 367.5H861.5V472.5H859.5zM861.5 367.5H863.5V472.5H861.5zM863.5 424.5H865.5V472.5H863.5zM866.5 424.5H867.5V472.5H866.5zM868.5 424.5H870.5V472.5H868.5zM870.5 424.5H872.5V472.5H870.5zM872.5 442.5H874.5V472.5H872.5zM875.5 442.5H876.5V472.5H875.5zM877.5 442.5H879.5V472.5H877.5zM879.5 449.5H881.5V472.5H879.5zM881.5 449.5H883.5V472.5H881.5zM883.5 418.5H885.5V472.5H883.5z" fill="none" stroke="#1f77b4" stroke-width="1.0"/>
</g>
<rect x="184.5" y="69.5" width="736" height="288" fill="none" stroke="#000" stroke-width="1.111"/>
<rect x="184.5" y="357.5" width="736" height="115" fill="none" stroke="#000" stroke-width="1.111"/>
<path d="M179.64 314.5H184.5M179.64 256.5H184.5M179.64 198.5H184.5M179.64 140.5H184.5M179.64 82.5H184.5M179.64 472.5H184.5M179.64 424.5H184.5M179.64 376.5H184.5M220.5 472.5V477.36M331.5 472.5V477.36M442.5 472.5V477.36M553.5 472.5V477.36M664.5 472.5V477.36M775.5 472.5V477.36M887.5 472.5V477.36" stroke="#000" stroke-width="1.111" fill="none"/>
<text x="174.4" y="320.09" text-anchor="end" textLength="43.0" lengthAdjust="spacing">49540</text>
<text x="174.4" y="262.01" text-anchor="end" textLength="43.0" lengthAdjust="spacing">49560</text>
<text x="174.4" y="203.93" text-anchor="end" textLength="43.0" lengthAdjust="spacing">49580</text>
<text x="174.4" y="145.85" text-anchor="end" textLength="43.0" lengthAdjust="spacing">49600</text>
<text x="174.4" y="87.77" text-anchor="end" textLength="43.0" lengthAdjust="spacing">49620</text>
<text x="174.8" y="477.00" text-anchor="end">0</text>
<text x="174.4" y="429.26" text-anchor="end" textLength="34.1" lengthAdjust="spacing">2000</text>
<text x="174.4" y="381.52" text-anchor="end" textLength="34.1" lengthAdjust="spacing">4000</text>
<text transform="translate(218.17,500.5) rotate(-45)" text-anchor="middle" dy="5" textLength="39.2" lengthAdjust="spacing">05:30</text>
<text transform="translate(329.32,500.5) rotate(-45)" text-anchor="middle" dy="5" textLength="39.2" lengthAdjust="spacing">05:36</text>
<text transform="translate(440.47,500.5) rotate(-45)" text-anchor="middle" dy="5" textLength="39.2" lengthAdjust="spacing">05:39</text>
<text transform="translate(551.62,500.5) rotate(-45)" text-anchor="middle" dy="5" textLength="39.2" lengthAdjust="spacing">05:45</text>
<text transform="translate(662.77,500.5) rotate(-45)" text-anchor="middle" dy="5" textLength="39.2" lengthAdjust="spacing">05:48</text>
<text transform="translate(773.92,500.5) rotate(-45)" text-anchor="middle" dy="5" textLength="39.2" lengthAdjust="spacing">05:54</text>
<text transform="translate(121.5,215.5) rotate(-90)" text-anchor="middle">Price</text>
<text transform="translate(129.5,415.5) rotate(-90)" text-anchor="middle">Volume</text>
</svg>
</body></html>
